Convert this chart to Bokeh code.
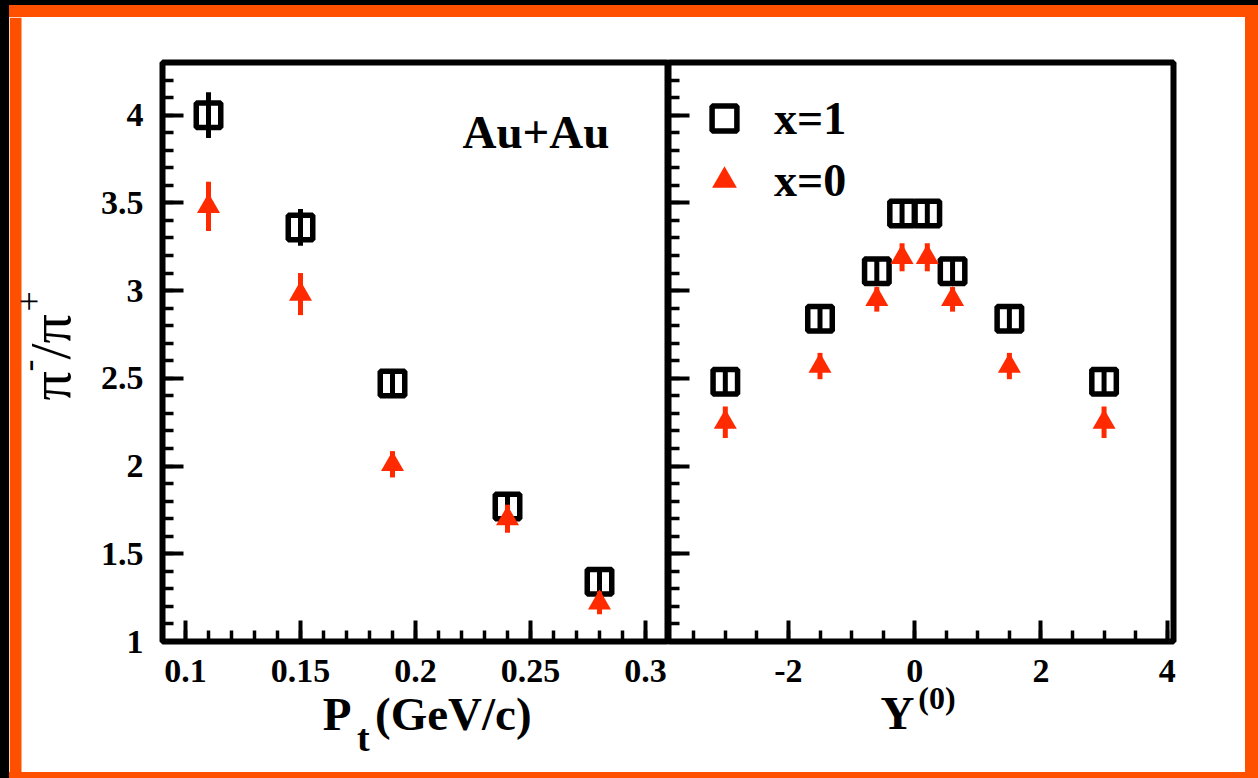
import math

from bokeh.embed import file_html
from bokeh.models import (BoxAnnotation, FixedTicker, Label, Legend,
                          LegendItem, LinearAxis, NumeralTickFormatter,
                          Range1d, Row)
from bokeh.plotting import figure
from bokeh.resources import INLINE

# ---- data -------------------------------------------------------------
# pi-/pi+ ratio versus transverse momentum (GeV/c)
pt = [0.11, 0.15, 0.19, 0.24, 0.28]
pt_ratio_x1 = [4.00, 3.36, 2.47, 1.77, 1.34]
pt_err_x1 = [0.13, 0.105, 0.06, 0.06, 0.06]
pt_ratio_x0 = [3.48, 2.98, 2.01, 1.70, 1.22]
pt_err_x0 = [0.14, 0.12, 0.075, 0.08, 0.065]

# pi-/pi+ ratio versus rapidity Y(0)
rap = [-3.0, -1.5, -0.6, -0.2, 0.2, 0.6, 1.5, 3.0]
rap_ratio_x1 = [2.48, 2.84, 3.11, 3.44, 3.44, 3.11, 2.84, 2.48]
rap_err_x1 = [0.06, 0.06, 0.06, 0.06, 0.06, 0.06, 0.06, 0.06]
rap_ratio_x0 = [2.25, 2.57, 2.95, 3.19, 3.19, 2.95, 2.57, 2.25]
rap_err_x0 = [0.09, 0.075, 0.07, 0.08, 0.08, 0.07, 0.075, 0.09]

series_labels = ["x=1", "x=0"]

# ---- ticks ------------------------------------------------------------
ratio_major = [1, 1.5, 2, 2.5, 3, 3.5, 4]
ratio_minor = [round(1 + 0.1 * i, 2) for i in range(1, 33)]
pt_major = [0.1, 0.15, 0.2, 0.25, 0.3]
pt_minor = [round(0.10 + 0.01 * i, 2) for i in range(0, 22)]
rap_major = [-2, 0, 2, 4]
rap_minor = [-3.5 + 0.5 * i for i in range(0, 16)]

BLACK = "black"
RED = "#ff2a00"
ORANGE = "#ff5000"
FONT = "Liberation Serif"
PAGE_H = 755
NB = "\u00a0"


def make_panel(width, x_range, border_left, border_right):
    p = figure(width=width, height=PAGE_H, x_range=x_range,
               y_range=Range1d(1, 4.3), title=None,
               output_backend="svg", toolbar_location=None,
               min_border_left=border_left, min_border_right=border_right,
               min_border_top=45, min_border_bottom=131)
    p.background_fill_color = "white"
    p.border_fill_color = "white"
    p.outline_line_color = BLACK
    p.outline_line_width = 6
    p.xgrid.visible = False
    p.ygrid.visible = False
    for ax in (p.xaxis[0], p.yaxis[0]):
        ax.axis_line_color = None
        ax.major_tick_in = 21
        ax.major_tick_out = 0
        ax.minor_tick_in = 11
        ax.minor_tick_out = 0
        ax.major_tick_line_width = 4
        ax.minor_tick_line_width = 3.5
        ax.major_tick_line_color = BLACK
        ax.minor_tick_line_color = BLACK
        ax.major_label_text_font = FONT
        ax.major_label_text_font_style = "bold"
        ax.major_label_text_font_size = "34px"
        ax.major_label_text_color = BLACK
        ax.formatter = NumeralTickFormatter(format="0.[00]")
    p.yaxis[0].ticker = FixedTicker(ticks=ratio_major, minor_ticks=ratio_minor)
    p.yaxis[0].major_label_standoff = 19
    p.xaxis[0].major_label_standoff = 18
    return p


def axis_title(ax, text, size, standoff):
    ax.axis_label = text
    ax.axis_label_text_font = FONT
    ax.axis_label_text_font_style = "bold"
    ax.axis_label_text_font_size = size
    ax.axis_label_text_color = BLACK
    ax.axis_label_standoff = standoff


def script_axis(p, text, size, standoff):
    # an extra tick-less axis that only carries a sub/superscript
    ax = LinearAxis(ticker=FixedTicker(ticks=[]), axis_line_color=None,
                    major_tick_line_color=None, minor_tick_line_color=None)
    axis_title(ax, text, size, standoff)
    p.add_layout(ax, "below")


def draw_series(p, x, y1, e1, y0, e0):
    p.segment(x0=x, x1=x, y0=[v - e for v, e in zip(y1, e1)],
              y1=[v + e for v, e in zip(y1, e1)],
              line_color=BLACK, line_width=5)
    sq = p.scatter(x, y1, marker="square", size=24.5, fill_color=None,
                   line_color=BLACK, line_width=5.5)
    p.segment(x0=x, x1=x, y0=[v - e for v, e in zip(y0, e0)],
              y1=[v + e for v, e in zip(y0, e0)],
              line_color=RED, line_width=5)
    tri = p.scatter(x, y0, marker="triangle", size=23, fill_color=RED,
                    line_color=None)
    return sq, tri


# ---- y-axis title strip (carries the left orange edge too) -----------
ytitle = figure(width=81, height=PAGE_H, x_range=Range1d(0, 1),
                y_range=Range1d(0, 1), title=None, output_backend="svg",
                toolbar_location=None, x_axis_location=None,
                y_axis_location=None, min_border=0,
                min_border_left=0, min_border_right=0,
                min_border_top=0, min_border_bottom=0)
if "frame_align" in ytitle.properties():
    ytitle.frame_align = False
ytitle.background_fill_color = "white"
ytitle.border_fill_color = "white"
ytitle.outline_line_color = None
ytitle.xgrid.visible = False
ytitle.ygrid.visible = False
ytitle.add_layout(BoxAnnotation(left=0, right=12, bottom=0, top=PAGE_H,
                                left_units="screen", right_units="screen",
                                bottom_units="screen", top_units="screen",
                                fill_color=ORANGE, fill_alpha=1.0,
                                line_color=None, level="underlay"))
rot = dict(x_units="screen", y_units="screen", text_font=FONT,
           text_font_style="normal", text_color=BLACK, angle=math.pi / 2,
           text_align="left", text_baseline="alphabetic")
ytitle.add_layout(Label(x=41, y=372, text="π", text_font_size="58px", **rot))
ytitle.add_layout(Label(x=18.5, y=401, text="-", text_font_size="36px", **rot))
ytitle.add_layout(Label(x=41, y=413, text="/π", text_font_size="58px", **rot))
ytitle.add_layout(Label(x=19, y=461, text="+", text_font_size="36px", **rot))

# ---- left panel: transverse momentum ---------------------------------
left = make_panel(578, Range1d(0.09, 0.31), 72, 0)
left.xaxis[0].ticker = FixedTicker(ticks=pt_major, minor_ticks=pt_minor)
axis_title(left.xaxis[0], NB * 2 + "P" + NB * 2 + "(GeV/c)", "47px", 3)
script_axis(left, "t" + NB * 11, "38px", -26)
draw_series(left, pt, pt_ratio_x1, pt_err_x1, pt_ratio_x0, pt_err_x0)

left.add_layout(Label(x=300, y=510, x_units="screen", y_units="screen",
                      text="Au+Au", text_font=FONT, text_font_style="bold",
                      text_font_size="47px", text_color=BLACK,
                      text_align="left", text_baseline="alphabetic"))

# ---- right panel: rapidity -------------------------------------------
right = make_panel(577, Range1d(-3.9, 4.1), 0, 72)
right.xaxis[0].ticker = FixedTicker(ticks=rap_major, minor_ticks=rap_minor)
right.yaxis[0].major_label_text_color = None
right.yaxis[0].major_label_standoff = 0
axis_title(right.xaxis[0], "Y" + NB * 4, "47px", 2)
script_axis(right, NB * 4 + "(0)", "32px", -62)
sq_r, tri_r = draw_series(right, rap, rap_ratio_x1, rap_err_x1,
                          rap_ratio_x0, rap_err_x0)

legend = Legend(items=[LegendItem(label=series_labels[0], renderers=[sq_r]),
                       LegendItem(label=series_labels[1], renderers=[tri_r])],
                location="top_left", margin=25, padding=26, spacing=-4,
                glyph_width=62, glyph_height=62, label_standoff=19,
                label_text_font=FONT, label_text_font_style="bold",
                label_text_font_size="46px", label_text_color=BLACK,
                border_line_color=None, background_fill_alpha=0)
right.add_layout(legend)

# ---- page frame ------------------------------------------------------
panels = Row(children=[ytitle, left, right], spacing=0,
             styles={"background-color": "white",
                     "border-style": "solid",
                     "border-color": ORANGE,
                     "border-width": "12px 13px 6px 0px"})
page = Row(children=[panels],
           styles={"background-color": "black",
                   "padding-top": "5px", "padding-left": "9px"})

open("out.html", "w").write(file_html(page, INLINE))
